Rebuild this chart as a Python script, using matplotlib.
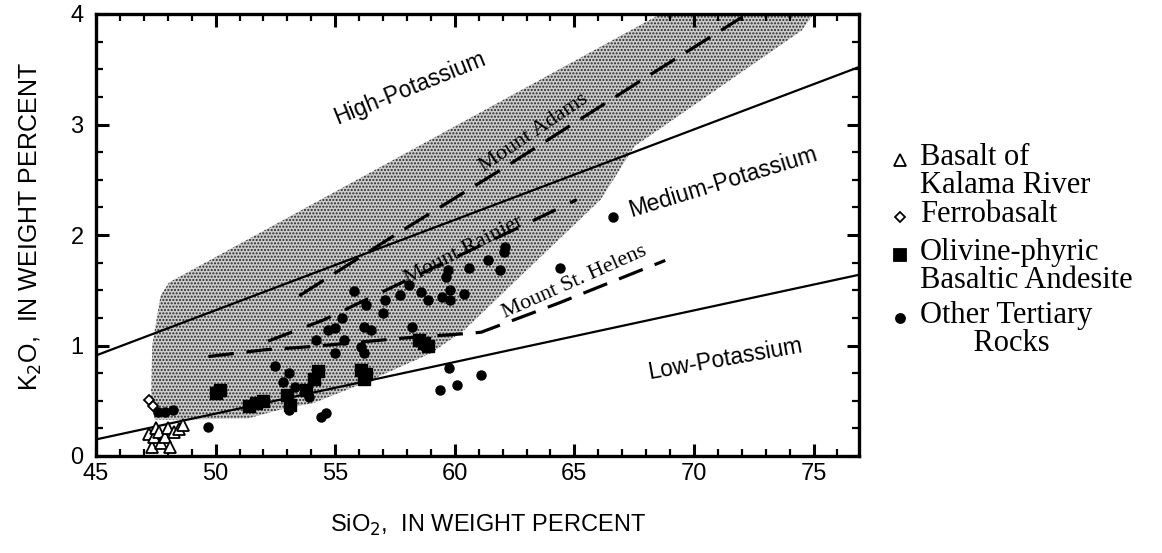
import matplotlib
matplotlib.use("Agg")
import matplotlib.pyplot as plt
from matplotlib.lines import Line2D
from matplotlib.ticker import MultipleLocator

SANS = ["Liberation Sans Narrow", "Liberation Sans", "DejaVu Sans"]
PLAIN = ["Liberation Sans", "DejaVu Sans"]
SERIF = ["Liberation Serif", "DejaVu Serif"]

# classification boundaries (SiO2, K2O)
low_med_x = [45.0, 76.9]
low_med_y = [0.15, 1.64]
med_high_x = [45.0, 76.9]
med_high_y = [0.91, 3.52]

# stippled field outline
field_x = [48.05, 47.7, 47.35, 47.3, 47.45, 48.5, 51.35, 52.7, 54.1, 56.2, 59.0, 60.4,
           63.0, 66.1, 67.5, 70.5, 74.5, 75.0, 68.6]
field_y = [1.57, 1.45, 1.0, 0.5, 0.33, 0.33, 0.34, 0.42, 0.48, 0.66, 0.93, 1.14,
           1.68, 2.32, 2.8, 3.25, 3.85, 4.0, 4.0]

# volcano trends
adams_x = [53.5, 57.5, 62.0, 67.8, 72.0]
adams_y = [1.45, 2.0, 2.6, 3.4, 3.97]
rainier_x = [52.2, 54.5, 57.6, 62.5, 65.1]
rainier_y = [1.04, 1.23, 1.55, 2.05, 2.32]
helens_x = [49.7, 52.0, 54.0, 58.0, 60.0, 61.1, 64.3, 68.8]
helens_y = [0.90, 0.96, 0.99, 1.07, 1.10, 1.12, 1.38, 1.77]

# samples
kalama_x = [47.2, 47.34, 47.42, 47.5, 47.63, 47.7, 47.88, 48.0, 48.09, 48.26, 48.47, 48.63]
kalama_y = [0.20, 0.08, 0.17, 0.25, 0.22, 0.12, 0.17, 0.25, 0.08, 0.22, 0.24, 0.28]
ferro_x = [47.2, 47.4]
ferro_y = [0.51, 0.45]
olivine_x = [50.0, 50.2, 51.4, 51.7, 52.0, 53.0, 53.1, 53.8, 54.1, 54.3,
             56.1, 56.3, 56.2, 58.5, 58.9, 58.7]
olivine_y = [0.57, 0.60, 0.45, 0.48, 0.50, 0.55, 0.46, 0.60, 0.70, 0.77,
             0.78, 0.74, 0.70, 1.05, 1.00, 1.02]
other_x = [47.6, 47.9, 48.2, 49.7, 52.5, 53.05, 52.8, 53.3, 53.05, 53.9, 54.4, 54.6,
           54.2, 54.7, 55.0, 55.3, 55.35, 55.0, 55.8, 56.3, 56.2, 56.5, 56.1, 56.2,
           57.1, 57.0, 58.2, 57.7, 58.1, 58.6, 58.9, 59.45, 59.8, 59.8, 59.7, 59.65,
           60.4, 60.6, 59.75, 59.4, 60.1, 61.1, 61.4, 61.9, 62.1, 62.05, 64.4, 66.6]
other_y = [0.40, 0.40, 0.42, 0.26, 0.81, 0.75, 0.67, 0.62, 0.42, 0.53, 0.35, 0.39,
           1.05, 1.14, 1.16, 1.25, 1.05, 0.93, 1.49, 1.37, 1.17, 1.14, 0.99, 0.93,
           1.41, 1.29, 1.17, 1.46, 1.55, 1.48, 1.41, 1.44, 1.41, 1.50, 1.68, 1.62,
           1.47, 1.70, 0.80, 0.60, 0.64, 0.73, 1.77, 1.68, 1.89, 1.85, 1.70, 2.16]

fig = plt.figure(figsize=(11.62, 5.53), dpi=100)
ax = fig.add_axes([96 / 1162, 1 - 456 / 553, (859 - 96) / 1162, (456 - 14) / 553])

ax.fill(field_x, field_y, facecolor="0.8", edgecolor="0.15", hatch=".....",
        linewidth=0, zorder=1)

ax.plot(low_med_x, low_med_y, color="black", lw=1.6, zorder=2)
ax.plot(med_high_x, med_high_y, color="black", lw=1.6, zorder=2)

ax.plot(adams_x, adams_y, color="black", lw=2.3, dashes=(9, 4), zorder=3)
ax.plot(rainier_x, rainier_y, color="black", lw=2.3, dashes=(8, 5), zorder=3)
ax.plot(helens_x, helens_y, color="black", lw=2.3, dashes=(8, 4), zorder=3)

ax.plot(kalama_x, kalama_y, ls="none", marker="^", ms=8, mfc="white", mec="black", mew=1.3, zorder=4)
ax.plot(ferro_x, ferro_y, ls="none", marker="D", ms=5.5, mfc="white", mec="black", mew=1.3, zorder=4)
ax.plot(olivine_x, olivine_y, ls="none", marker="s", ms=8, color="black", zorder=4)
ax.plot(other_x, other_y, ls="none", marker="o", ms=6.5, color="black", zorder=4)

# field names
ax.text(58.1, 3.33, "High-Potassium", rotation=22, ha="center", va="center",
        fontsize=16.5, family=PLAIN)
ax.text(71.2, 2.48, "Medium-Potassium", rotation=17, ha="center", va="center",
        fontsize=16.5, family=PLAIN)
ax.text(71.3, 0.88, "Low-Potassium", rotation=10, ha="center", va="center",
        fontsize=16.5, family=PLAIN)
ax.text(63.3, 2.92, "Mount Adams", rotation=34, ha="center", va="center",
        fontsize=16, family=SERIF)
ax.text(60.4, 1.86, "Mount Rainier", rotation=27, ha="center", va="center",
        fontsize=16, family=SERIF)
ax.text(65.0, 1.57, "Mount St. Helens", rotation=24, ha="center", va="center",
        fontsize=16, family=SERIF)

ax.set_xlim(45, 76.9)
ax.set_ylim(0, 4)
ax.xaxis.set_major_locator(MultipleLocator(5))
ax.xaxis.set_minor_locator(MultipleLocator(1))
ax.yaxis.set_major_locator(MultipleLocator(1))
ax.yaxis.set_minor_locator(MultipleLocator(0.25))
ax.tick_params(which="both", direction="in", top=True, right=True)
ax.tick_params(which="major", length=9, width=2.2, labelsize=17)
ax.tick_params(axis="x", which="major", pad=5)
ax.tick_params(axis="y", which="major", pad=9)
ax.tick_params(which="minor", length=5, width=1.6)
for lab in ax.get_xticklabels() + ax.get_yticklabels():
    lab.set_family(SANS)
for sp in ax.spines.values():
    sp.set_linewidth(2.4)

fig.text(0.42, 0.05, "SiO$_2$,  IN WEIGHT PERCENT", ha="center", va="center",
         fontsize=17, family=SANS)
fig.text(0.027, 0.59, "K$_2$O,  IN WEIGHT PERCENT", ha="center", va="center",
         rotation=90, fontsize=18, family=PLAIN)

# legend drawn by hand
legend_items = [
    ("^", "white", 8, ["Basalt of", "Kalama River"]),
    ("D", "white", 5.5, ["Ferrobasalt"]),
    ("s", "black", 8, ["Olivine-phyric", "Basaltic Andesite"]),
    ("o", "black", 6.5, ["Other Tertiary", "       Rocks"]),
]
row_px = [160, 217, 255, 318]
for (mk, fc, ms, lines), y in zip(legend_items, row_px):
    fy = 1 - y / 553
    fig.add_artist(Line2D([900 / 1162], [fy], marker=mk, ms=ms, mfc=fc, mec="black",
                          mew=1.3, ls="none", transform=fig.transFigure))
    fig.text(920 / 1162, fy + 0.03, "\n".join(lines), ha="left", va="top",
             fontsize=22, family=SERIF, linespacing=0.95)

fig.savefig("out.png", dpi=100, facecolor="white")
